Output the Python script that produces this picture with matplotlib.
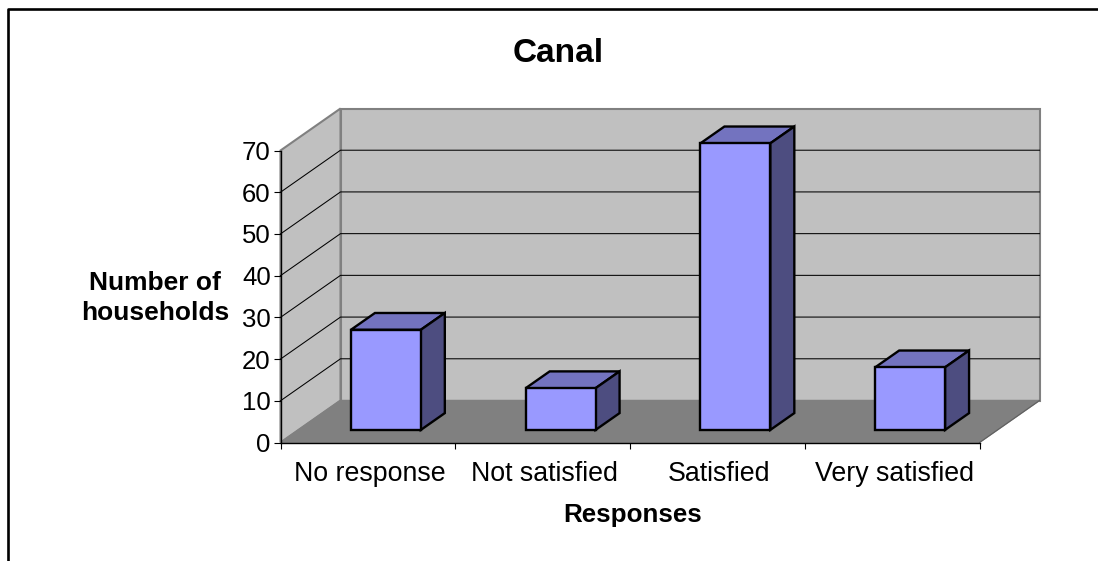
import matplotlib
matplotlib.use("Agg")
import matplotlib.pyplot as plt
from matplotlib.patches import Polygon
from matplotlib.lines import Line2D
from matplotlib.transforms import ScaledTranslation

title = "Canal"
categories = ["No response", "Not satisfied", "Satisfied", "Very satisfied"]
values = [24, 10, 68.7, 15]
yticks = [0, 10, 20, 30, 40, 50, 60, 70]
xlabel = "Responses"
ylabel = "Number of\nhouseholds"

W, H = 1098, 561
plt.rcParams["font.family"] = ["Liberation Sans", "DejaVu Sans"]
fig = plt.figure(figsize=(W / 100, H / 100), dpi=100, facecolor="white")

L, R, T, B = 280.5, 979.5, 150.5, 442.5
ax = fig.add_axes([L / W, (H - B) / H, (R - L) / W, (B - T) / H])
ax.set_xlim(0, len(categories))
ax.set_ylim(0, 70)
ax.patch.set_visible(False)

# oblique projection: depth z (0 front, 1 back) expressed in data units
DX = 60 / ((R - L) / len(categories))
DY = 42 / ((B - T) / 70)


def P(x, y, z):
    return (x + z * DX, y + z * DY)


n = len(categories)
ymax = yticks[-1]
wall = "#C0C0C0"
floor = "#808080"

ax.add_patch(Polygon([P(0, 0, 1), P(n, 0, 1), P(n, ymax, 1), P(0, ymax, 1)],
                     fc=wall, ec=floor, lw=1.5, clip_on=False, zorder=1))
ax.add_patch(Polygon([P(0, 0, 0), P(0, 0, 1), P(0, ymax, 1), P(0, ymax, 0)],
                     fc=wall, ec=floor, lw=1.5, clip_on=False, zorder=1))
ax.add_patch(Polygon([P(0, 0, 0), P(n, 0, 0), P(n, 0, 1), P(0, 0, 1)],
                     fc=floor, ec=floor, lw=1, clip_on=False, zorder=1.5))
ax.add_line(Line2D(*zip(P(n, 0, 0), P(n, 0, 1)), color="#606060", lw=0.8, clip_on=False, zorder=1.6))

for v in yticks[1:-1]:
    pts = [P(0, v, 0), P(0, v, 1), P(n, v, 1)]
    ax.add_line(Line2D(*zip(*pts), color="black", lw=0.75, clip_on=False, zorder=2))

# bars
bw = 0.4
z0, z1 = 0.3, 0.7
for i, v in enumerate(values):
    a, b = i + 0.5 - bw / 2, i + 0.5 + bw / 2
    kw = dict(ec="black", lw=1.7, joinstyle="miter", clip_on=False, zorder=3)
    ax.add_patch(Polygon([P(a, v, z0), P(b, v, z0), P(b, v, z1), P(a, v, z1)], fc="#7373BF", **kw))
    ax.add_patch(Polygon([P(b, 0, z0), P(b, 0, z1), P(b, v, z1), P(b, v, z0)], fc="#4D4D80", **kw))
    ax.add_patch(Polygon([P(a, 0, z0), P(b, 0, z0), P(b, v, z0), P(a, v, z0)], fc="#9999FF", **kw))

for s in ("top", "right"):
    ax.spines[s].set_visible(False)
for s in ("left", "bottom"):
    ax.spines[s].set_linewidth(1.0)
    ax.spines[s].set_zorder(4)

ax.set_yticks(yticks)
ax.tick_params(axis="y", length=5, width=0.8, labelsize=18.5, pad=2)
ax.set_xticks(range(n + 1))
ax.set_xticklabels([])
ax.set_xticks([i + 0.5 for i in range(n)], minor=True)
ax.set_xticklabels(categories, minor=True, fontsize=19.3)
ax.tick_params(axis="x", which="major", length=4.5, width=0.8)
ax.tick_params(axis="x", which="minor", length=0, pad=13)
for lab in ax.get_xticklabels(minor=True):
    lab.set_transform(lab.get_transform() + ScaledTranslation(2 / 100, 0, fig.dpi_scale_trans))

fig.text(558.5 / W, 1 - 53 / H, title, ha="center", va="center", fontsize=24, fontweight="bold")
fig.text(632.5 / W, 1 - 515 / H, xlabel, ha="center", va="center", fontsize=18.7, fontweight="bold")
fig.text(155 / W, 1 - 298 / H, ylabel, ha="center", va="center", fontsize=19, fontweight="bold", linespacing=1.33)

# chart frame
fig.add_artist(Line2D([8.3 / W, 8.3 / W, 1], [0, 1 - 9 / H, 1 - 9 / H], color="black", lw=1.9,
                      transform=fig.transFigure))

fig.savefig("out.png", dpi=100)
